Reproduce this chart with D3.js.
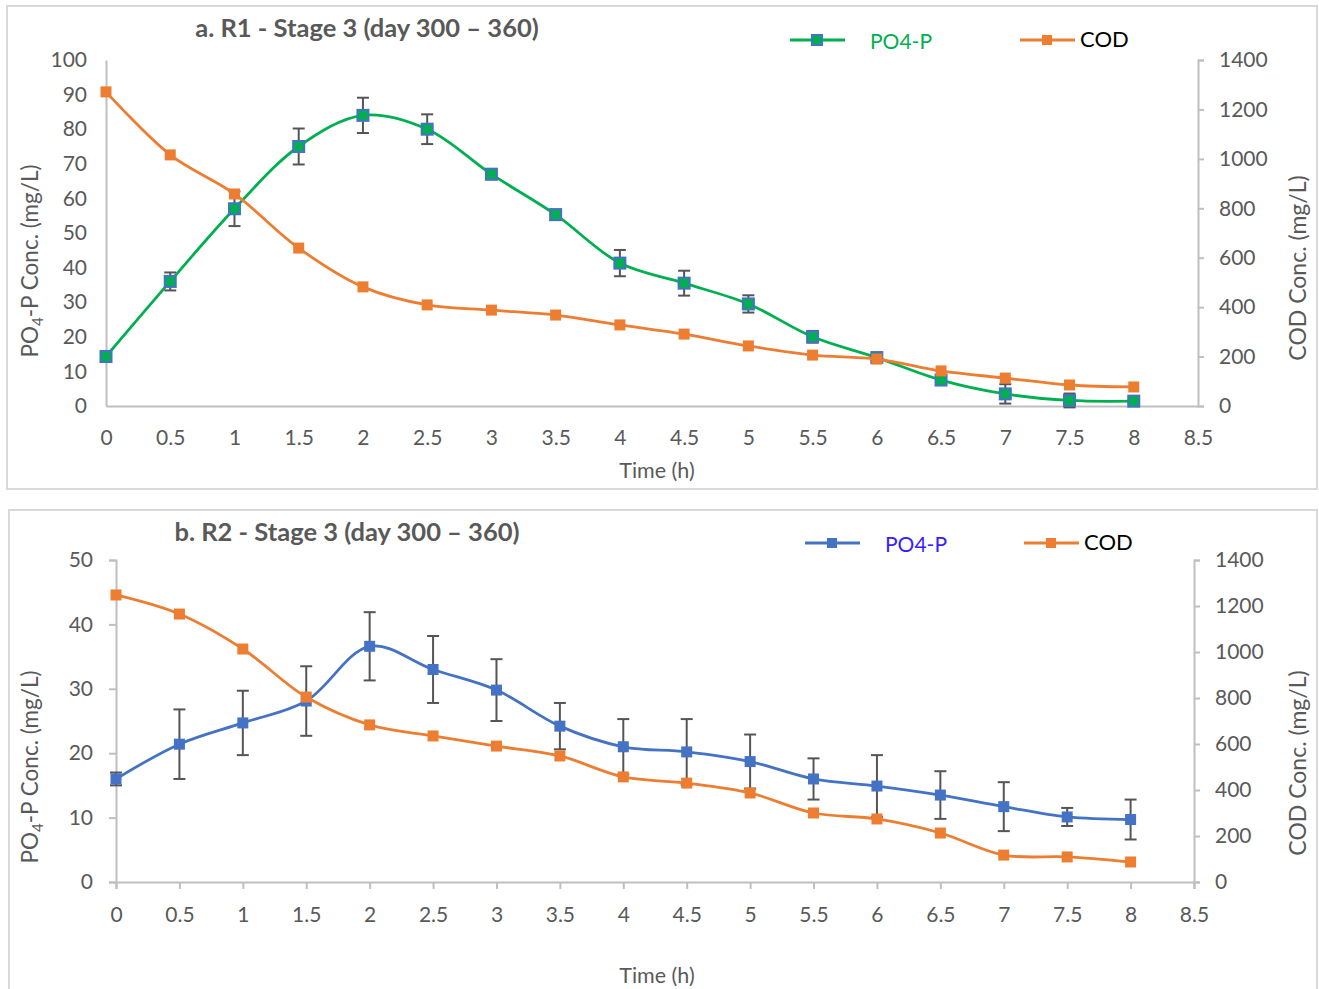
<!DOCTYPE html>
<html>
<head>
<meta charset="utf-8">
<script src="https://cdn.jsdelivr.net/npm/d3@7"></script>
<style>
  body { margin: 0; background: #fff; }
  svg { display: block; font-family: Lato, "Open Sans", sans-serif; }
</style>
</head>
<body>
<svg width="1319" height="989"></svg>
<script>
// sampling times (h)
var timeH = [0, 0.5, 1, 1.5, 2, 2.5, 3, 3.5, 4, 4.5, 5, 5.5, 6, 6.5, 7, 7.5, 8];
var xTicks = [0, 0.5, 1, 1.5, 2, 2.5, 3, 3.5, 4, 4.5, 5, 5.5, 6, 6.5, 7, 7.5, 8, 8.5];

// a. R1
var r1Po4 = [14.3, 36, 57, 75, 84, 80, 67, 55.3, 41.3, 35.5, 29.5, 20, 14, 7.5, 3.5, 1.6, 1.4];
var r1Po4Err = [0.5, 2.6, 5, 5.2, 5.1, 4.3, 1.5, 1.5, 3.8, 3.6, 2.5, 1.7, 1, 1, 2.8, 2, 0.5];
var r1Cod = [1271, 1016, 858, 639, 482, 409, 388, 368, 328, 291, 243, 206, 190, 142, 113, 85, 77];
var r1LeftTicks = [0, 10, 20, 30, 40, 50, 60, 70, 80, 90, 100];

// b. R2
var r2Po4 = [16, 21.4, 24.7, 28.1, 36.6, 33, 29.8, 24.2, 21, 20.2, 18.7, 16, 14.9, 13.5, 11.7, 10.1, 9.7];
var r2Po4Err = [1, 5.4, 5, 5.4, 5.3, 5.2, 4.8, 3.6, 4.3, 5.1, 4.2, 3.2, 4.8, 3.7, 3.8, 1.4, 3.1];
var r2Cod = [1248, 1165, 1013, 804, 683, 635, 591, 548, 457, 430, 387, 300, 274, 213, 117, 109, 87];
var r2LeftTicks = [0, 10, 20, 30, 40, 50];

var codTicks = [0, 200, 400, 600, 800, 1000, 1200, 1400];

var svg = d3.select("svg");
var grey = "#595959", axisCol = "#bfbfbf", orange = "#ed7d31", blue = "#4472c4", green = "#00b050";

function drawPanel(p) {
    var g = svg.append("g");
    // panel frame
    g.append("rect")
        .attr("x", p.box[0]).attr("y", p.box[1])
        .attr("width", p.box[2]).attr("height", p.box[3])
        .attr("fill", "none").attr("stroke", "#d9d9d9").attr("stroke-width", 2);

    var x = d3.scaleLinear().domain([0, 8.5]).range([p.left, p.right]);
    var yL = d3.scaleLinear().domain([0, p.yMax]).range([p.bottom, p.top]);
    var yR = d3.scaleLinear().domain([0, 1400]).range([p.bottom, p.top]);

    var xAxis = g.append("g")
        .attr("transform", "translate(0," + p.bottom + ")")
        .call(d3.axisBottom(x).tickValues(xTicks).tickFormat(d3.format("")).tickSize(p.ticks ? 7 : 0).tickPadding(p.ticks ? 18 : 24));
    var lAxis = g.append("g")
        .attr("transform", "translate(" + p.left + ",0)")
        .call(d3.axisLeft(yL).tickValues(p.leftTicks).tickSize(p.ticks ? 7 : 0).tickPadding(p.ticks ? 16 : 19));
    var rAxis = g.append("g")
        .attr("transform", "translate(" + p.right + ",0)")
        .call(d3.axisRight(yR).tickValues(codTicks).tickFormat(d3.format("d")).tickSize(6).tickPadding(15));

    [xAxis, lAxis, rAxis].forEach(function (a) {
        a.select(".domain").attr("stroke", axisCol).attr("stroke-width", 2);
        a.selectAll(".tick line").attr("stroke", axisCol).attr("stroke-width", 2);
        a.selectAll(".tick text").attr("fill", grey).attr("font-size", 21).attr("font-family", "Lato, sans-serif");
    });

    // title
    g.append("text")
        .attr("x", p.titleX).attr("y", p.titleY)
        .attr("text-anchor", "middle")
        .attr("font-size", 25.5).attr("font-weight", "bold").attr("fill", grey)
        .text(p.title);

    // axis titles
    var lt = g.append("text")
        .attr("transform", "translate(38," + p.ylabY + ") rotate(-90)")
        .attr("text-anchor", "middle").attr("font-size", 22.5).attr("fill", grey);
    lt.append("tspan").text("PO");
    lt.append("tspan").text("4").attr("font-size", 15).attr("dy", 5);
    lt.append("tspan").text("-P Conc. (mg/L)").attr("dy", -5);

    g.append("text")
        .attr("transform", "translate(1306," + p.yrabY + ") rotate(-90)")
        .attr("text-anchor", "middle").attr("font-size", 23).attr("fill", grey)
        .text("COD Conc. (mg/L)");

    g.append("text")
        .attr("x", 657).attr("y", p.xlabY)
        .attr("text-anchor", "middle").attr("font-size", 21.5).attr("fill", grey)
        .text("Time (h)");

    var curve = d3.curveCatmullRom.alpha(0.5);

    // PO4 series with error bars
    var po4 = timeH.map(function (t, i) { return { t: t, v: p.po4[i], e: p.po4Err[i] }; });
    var eb = g.append("g").attr("stroke", "#555").attr("stroke-width", 2);
    po4.forEach(function (d) {
        var cx = x(d.t);
        eb.append("line").attr("x1", cx).attr("x2", cx).attr("y1", yL(d.v + d.e)).attr("y2", yL(d.v - d.e));
        eb.append("line").attr("x1", cx - 6).attr("x2", cx + 6).attr("y1", yL(d.v + d.e)).attr("y2", yL(d.v + d.e));
        eb.append("line").attr("x1", cx - 6).attr("x2", cx + 6).attr("y1", yL(d.v - d.e)).attr("y2", yL(d.v - d.e));
    });

    g.append("path").datum(po4)
        .attr("fill", "none").attr("stroke", p.po4Line).attr("stroke-width", 2.8)
        .attr("d", d3.line().x(function (d) { return x(d.t); }).y(function (d) { return yL(d.v); }).curve(curve));
    g.selectAll(null).data(po4).enter().append("rect")
        .attr("x", function (d) { return x(d.t) - 5.5; })
        .attr("y", function (d) { return yL(d.v) - 5.5; })
        .attr("width", 11).attr("height", 11)
        .attr("fill", p.po4Fill).attr("stroke", blue).attr("stroke-width", p.po4Fill === blue ? 0 : 2);

    // COD series
    var cod = timeH.map(function (t, i) { return { t: t, v: p.cod[i] }; });
    g.append("path").datum(cod)
        .attr("fill", "none").attr("stroke", orange).attr("stroke-width", 2.8)
        .attr("d", d3.line().x(function (d) { return x(d.t); }).y(function (d) { return yR(d.v); }).curve(curve));
    g.selectAll(null).data(cod).enter().append("rect")
        .attr("x", function (d) { return x(d.t) - 5.5; })
        .attr("y", function (d) { return yR(d.v) - 5.5; })
        .attr("width", 11).attr("height", 11)
        .attr("fill", orange);

    // legend
    var lg = p.legend;
    g.append("line").attr("x1", lg.x1).attr("x2", lg.x1 + 55).attr("y1", lg.y).attr("y2", lg.y)
        .attr("stroke", p.po4Line).attr("stroke-width", 2.8);
    g.append("rect").attr("x", lg.x1 + 22).attr("y", lg.y - 5).attr("width", 10).attr("height", 10)
        .attr("fill", p.po4Fill).attr("stroke", blue).attr("stroke-width", p.po4Fill === blue ? 0 : 2);
    g.append("text").attr("x", lg.x1 + 80).attr("y", lg.y + 9).attr("font-size", 21)
        .attr("fill", lg.po4Text).text("PO4-P");
    g.append("line").attr("x1", lg.x2).attr("x2", lg.x2 + 55).attr("y1", lg.y).attr("y2", lg.y)
        .attr("stroke", orange).attr("stroke-width", 2.8);
    g.append("rect").attr("x", lg.x2 + 22).attr("y", lg.y - 5).attr("width", 10).attr("height", 10)
        .attr("fill", orange);
    g.append("text").attr("x", lg.x2 + 60).attr("y", lg.y + 7).attr("font-size", 22)
        .attr("fill", "#000").text("COD");
}

drawPanel({
    box: [7, 6, 1310, 483],
    left: 106, right: 1198, top: 60, bottom: 406,
    yMax: 100, leftTicks: r1LeftTicks, ticks: false,
    title: "a. R1 - Stage 3 (day 300 \u2013 360)", titleX: 367, titleY: 37,
    ylabY: 261, yrabY: 268, xlabY: 478,
    po4: r1Po4, po4Err: r1Po4Err, cod: r1Cod,
    po4Line: green, po4Fill: green,
    legend: { x1: 790, x2: 1020, y: 40, po4Text: green }
});

drawPanel({
    box: [9, 510, 1308, 500],
    left: 116, right: 1194, top: 560, bottom: 882,
    yMax: 50, leftTicks: r2LeftTicks, ticks: true,
    title: "b. R2 - Stage 3 (day 300 \u2013 360)", titleX: 347, titleY: 541,
    ylabY: 767, yrabY: 763, xlabY: 983,
    po4: r2Po4, po4Err: r2Po4Err, cod: r2Cod,
    po4Line: blue, po4Fill: blue,
    legend: { x1: 805, x2: 1024, y: 543, po4Text: "#3a1cff" }
});
</script>
</body>
</html>
